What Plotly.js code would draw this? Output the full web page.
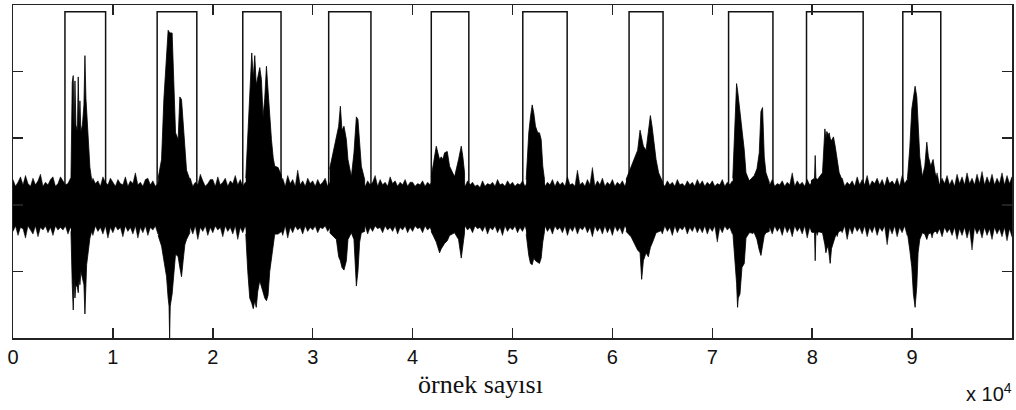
<!DOCTYPE html>
<html>
<head>
<meta charset="utf-8">
<script src="https://cdn.plot.ly/plotly-3.0.1.min.js"></script>
<style>html,body{margin:0;padding:0;background:#fff;}#chart{width:1016px;height:410px;}</style>
</head>
<body>
<div id="chart"></div>
<script>
// ---- data (x in samples, amplitudes) ----
const xTickVals = [0, 10000, 20000, 30000, 40000, 50000, 60000, 70000, 80000, 90000];
const xTickText = ['0', '1', '2', '3', '4', '5', '6', '7', '8', '9'];
const yTickVals = [-0.5, 0, 0.5, 1];

// speech windows (rectangles)
const rectStart = [5200, 14430, 23000, 31600, 41870, 51030, 61670, 71630, 79430, 89070];
const rectEnd   = [9270, 18400, 26830, 35830, 45630, 55470, 65070, 76070, 85100, 92870];
const rectTop = 1.45;

// background noise envelope, every 250 samples from 0 to 100000
const noiseStep = 250;
const noiseHi = [
 0.19,0.14,0.17,0.21,0.15,0.22,0.16,0.14,0.20,0.15,0.18,0.23,0.14,0.17,0.15,0.19,0.21,0.14,0.16,0.21,
 0.18,0.15,0.16,0.20,0.14,0.17,0.19,0.15,0.22,0.14,0.17,0.15,0.20,0.16,0.18,0.14,0.21,0.17,0.15,0.20,
 0.17,0.14,0.19,0.16,0.15,0.21,0.14,0.18,0.16,0.24,0.15,0.17,0.14,0.19,0.20,0.15,0.18,0.14,0.16,0.20,
 0.20,0.15,0.18,0.14,0.22,0.16,0.17,0.14,0.19,0.21,0.15,0.20,0.14,0.17,0.15,0.23,0.18,0.14,0.16,0.19,
 0.19,0.14,0.21,0.15,0.17,0.20,0.14,0.18,0.16,0.22,0.15,0.19,0.14,0.17,0.15,0.21,0.20,0.14,0.16,0.18,
 0.19,0.15,0.22,0.14,0.18,0.16,0.28,0.15,0.20,0.14,0.22,0.16,0.19,0.14,0.26,0.15,0.18,0.14,0.20,0.16,
 0.18,0.14,0.19,0.15,0.17,0.20,0.14,0.17,0.15,0.19,0.14,0.16,0.18,0.14,0.17,0.15,0.19,0.14,0.16,0.18,
 0.16,0.14,0.18,0.15,0.17,0.22,0.14,0.19,0.15,0.17,0.14,0.21,0.16,0.18,0.14,0.17,0.15,0.19,0.14,0.17,
 0.17,0.14,0.16,0.15,0.18,0.14,0.17,0.15,0.19,0.14,0.16,0.15,0.18,0.14,0.17,0.15,0.19,0.14,0.17,0.15,
 0.16,0.14,0.18,0.15,0.17,0.14,0.15,0.13,0.18,0.14,0.16,0.15,0.17,0.14,0.19,0.15,0.16,0.14,0.18,0.15,
 0.17,0.14,0.16,0.15,0.18,0.14,0.17,0.15,0.19,0.14,0.18,0.15,0.20,0.14,0.17,0.15,0.19,0.14,0.18,0.15,
 0.17,0.14,0.21,0.15,0.16,0.14,0.26,0.15,0.17,0.14,0.19,0.15,0.28,0.14,0.18,0.15,0.20,0.14,0.17,0.15,
 0.19,0.14,0.17,0.15,0.18,0.14,0.20,0.15,0.17,0.14,0.19,0.15,0.18,0.14,0.20,0.15,0.19,0.14,0.17,0.15,
 0.16,0.14,0.18,0.15,0.17,0.14,0.19,0.15,0.16,0.14,0.18,0.15,0.17,0.14,0.19,0.15,0.18,0.14,0.17,0.15,
 0.18,0.14,0.16,0.15,0.19,0.14,0.17,0.15,0.18,0.14,0.16,0.15,0.17,0.14,0.19,0.15,0.18,0.14,0.17,0.15,
 0.18,0.14,0.17,0.15,0.19,0.14,0.16,0.15,0.18,0.14,0.17,0.15,0.24,0.14,0.18,0.15,0.17,0.14,0.19,0.15,
 0.17,0.14,0.19,0.15,0.18,0.14,0.17,0.15,0.19,0.14,0.18,0.15,0.20,0.14,0.17,0.15,0.18,0.14,0.21,0.15,
 0.19,0.15,0.22,0.14,0.18,0.16,0.20,0.15,0.19,0.14,0.21,0.16,0.18,0.15,0.20,0.14,0.22,0.16,0.19,0.15,
 0.20,0.15,0.19,0.16,0.21,0.15,0.18,0.14,0.22,0.16,0.24,0.15,0.20,0.16,0.22,0.15,0.19,0.14,0.23,0.16,
 0.21,0.15,0.24,0.16,0.20,0.15,0.23,0.16,0.25,0.15,0.21,0.16,0.23,0.15,0.20,0.16,0.24,0.15,0.22,0.16,
 0.21];
const noiseLo = [
 -0.20,-0.16,-0.23,-0.17,-0.18,-0.25,-0.16,-0.19,-0.22,-0.16,-0.24,-0.17,-0.19,-0.16,-0.21,-0.17,-0.23,-0.16,-0.19,-0.17,
 -0.19,-0.16,-0.22,-0.17,-0.20,-0.16,-0.24,-0.17,-0.21,-0.16,-0.19,-0.17,-0.23,-0.16,-0.20,-0.17,-0.22,-0.16,-0.25,-0.17,
 -0.21,-0.16,-0.19,-0.17,-0.24,-0.16,-0.20,-0.17,-0.22,-0.16,-0.25,-0.17,-0.21,-0.16,-0.23,-0.17,-0.19,-0.16,-0.22,-0.17,
 -0.24,-0.16,-0.21,-0.17,-0.20,-0.16,-0.23,-0.17,-0.25,-0.16,-0.21,-0.17,-0.22,-0.16,-0.26,-0.17,-0.20,-0.16,-0.23,-0.17,
 -0.21,-0.16,-0.19,-0.17,-0.24,-0.16,-0.20,-0.17,-0.22,-0.16,-0.26,-0.17,-0.21,-0.16,-0.23,-0.17,-0.20,-0.16,-0.22,-0.17,
 -0.21,-0.16,-0.19,-0.17,-0.22,-0.16,-0.20,-0.17,-0.23,-0.16,-0.25,-0.17,-0.21,-0.16,-0.19,-0.17,-0.22,-0.16,-0.20,-0.17,
 -0.19,-0.16,-0.21,-0.17,-0.18,-0.16,-0.20,-0.17,-0.22,-0.16,-0.19,-0.17,-0.21,-0.16,-0.20,-0.17,-0.18,-0.16,-0.21,-0.17,
 -0.19,-0.16,-0.22,-0.17,-0.20,-0.16,-0.18,-0.17,-0.21,-0.16,-0.19,-0.17,-0.20,-0.16,-0.22,-0.17,-0.19,-0.16,-0.21,-0.17,
 -0.20,-0.16,-0.18,-0.17,-0.21,-0.16,-0.19,-0.17,-0.22,-0.16,-0.20,-0.17,-0.18,-0.16,-0.21,-0.17,-0.19,-0.16,-0.20,-0.17,
 -0.22,-0.16,-0.19,-0.17,-0.21,-0.16,-0.18,-0.17,-0.20,-0.16,-0.22,-0.17,-0.19,-0.16,-0.21,-0.17,-0.23,-0.16,-0.20,-0.17,
 -0.19,-0.16,-0.21,-0.17,-0.20,-0.16,-0.22,-0.17,-0.19,-0.16,-0.21,-0.17,-0.23,-0.16,-0.20,-0.17,-0.22,-0.16,-0.19,-0.17,
 -0.21,-0.16,-0.23,-0.17,-0.20,-0.16,-0.22,-0.17,-0.19,-0.16,-0.21,-0.17,-0.24,-0.16,-0.20,-0.17,-0.22,-0.16,-0.21,-0.17,
 -0.23,-0.16,-0.20,-0.17,-0.22,-0.16,-0.19,-0.17,-0.21,-0.16,-0.20,-0.17,-0.22,-0.16,-0.19,-0.17,-0.21,-0.16,-0.20,-0.17,
 -0.22,-0.16,-0.20,-0.17,-0.23,-0.16,-0.21,-0.17,-0.19,-0.16,-0.22,-0.17,-0.20,-0.16,-0.21,-0.17,-0.21,-0.16,-0.22,-0.17,
 -0.20,-0.16,-0.28,-0.17,-0.21,-0.16,-0.19,-0.17,-0.22,-0.16,-0.20,-0.17,-0.21,-0.16,-0.19,-0.17,-0.22,-0.16,-0.20,-0.17,
 -0.21,-0.16,-0.19,-0.17,-0.22,-0.16,-0.20,-0.17,-0.23,-0.16,-0.21,-0.17,-0.24,-0.16,-0.20,-0.17,-0.22,-0.16,-0.25,-0.17,
 -0.21,-0.16,-0.23,-0.17,-0.20,-0.16,-0.22,-0.17,-0.19,-0.16,-0.24,-0.17,-0.21,-0.16,-0.26,-0.17,-0.22,-0.16,-0.20,-0.17,
 -0.22,-0.16,-0.24,-0.17,-0.21,-0.16,-0.23,-0.17,-0.20,-0.16,-0.30,-0.17,-0.22,-0.16,-0.24,-0.17,-0.21,-0.16,-0.23,-0.17,
 -0.22,-0.17,-0.24,-0.18,-0.21,-0.17,-0.23,-0.18,-0.25,-0.17,-0.22,-0.18,-0.24,-0.17,-0.21,-0.18,-0.23,-0.17,-0.26,-0.18,
 -0.23,-0.17,-0.25,-0.18,-0.34,-0.17,-0.22,-0.18,-0.25,-0.17,-0.23,-0.18,-0.26,-0.17,-0.22,-0.18,-0.24,-0.17,-0.27,-0.18,
 -0.24];

// speech bursts: sample positions with upper / lower envelope
const burst1X  = [5800,5930,6030,6120,6200,6300,6450,6530,6620,6700,6800,6950,7100,7200,7300,7370,7530,7700,7870];
const burst1Hi = [0.19,0.92,0.97,0.55,0.93,0.60,0.55,0.96,0.60,0.78,0.55,0.60,0.75,1.12,0.80,0.70,0.45,0.28,0.19];
const burst1Lo = [-0.20,-0.60,-0.79,-0.55,-0.70,-0.60,-0.62,-0.66,-0.55,-0.60,-0.50,-0.55,-0.60,-0.82,-0.60,-0.45,-0.35,-0.25,-0.20];

const burst2X  = [14530,14870,15100,15370,15530,15620,15680,15740,15930,16100,16270,16530,16700,16870,17030,17200,17370,17700];
const burst2Hi = [0.20,0.34,0.79,1.16,1.31,1.30,1.29,1.29,1.29,0.91,0.54,0.49,0.81,0.79,0.64,0.44,0.26,0.19];
const burst2Lo = [-0.23,-0.31,-0.42,-0.54,-0.70,-0.76,-1.0,-0.76,-0.67,-0.55,-0.37,-0.39,-0.47,-0.54,-0.42,-0.30,-0.26,-0.21];

const burst3X  = [23300,23500,23700,23900,24050,24200,24350,24500,24700,24870,25030,25200,25370,25530,25700,25870,26050,26200,26530,26870];
const burst3Hi = [0.20,0.50,0.80,1.14,0.95,1.12,0.90,0.95,1.03,0.94,0.66,0.80,1.04,0.86,0.66,0.49,0.35,0.29,0.28,0.22];
const burst3Lo = [-0.22,-0.50,-0.70,-0.74,-0.78,-0.72,-0.77,-0.65,-0.57,-0.60,-0.65,-0.70,-0.72,-0.68,-0.50,-0.42,-0.30,-0.22,-0.22,-0.20];

const burst4X  = [31700,32370,32600,32770,32930,33130,33370,33530,33870,34130,34370,34530,34700,34870,35200];
const burst4Hi = [0.27,0.49,0.59,0.74,0.56,0.59,0.49,0.34,0.21,0.39,0.66,0.64,0.49,0.29,0.19];
const burst4Lo = [-0.21,-0.26,-0.39,-0.42,-0.47,-0.49,-0.42,-0.26,-0.21,-0.26,-0.61,-0.50,-0.28,-0.21,-0.20];

const burst5X  = [41870,42370,42530,42700,42870,43030,43200,43470,43700,44200,44600,44870,45030,45200];
const burst5Hi = [0.21,0.44,0.39,0.34,0.36,0.34,0.39,0.40,0.29,0.21,0.34,0.44,0.36,0.24];
const burst5Lo = [-0.20,-0.28,-0.31,-0.36,-0.33,-0.31,-0.29,-0.27,-0.23,-0.21,-0.26,-0.40,-0.29,-0.21];

const burst6X  = [51370,51630,51800,51970,52130,52300,52530,52700,52870,53030,53200];
const burst6Hi = [0.19,0.54,0.66,0.75,0.69,0.59,0.54,0.54,0.49,0.29,0.19];
const burst6Lo = [-0.22,-0.38,-0.44,-0.45,-0.40,-0.42,-0.43,-0.44,-0.40,-0.28,-0.20];

const burst7X  = [61370,61870,62200,62530,62770,62930,63100,63370,63600,63800,63970,64130,64370,64630,65030];
const burst7Hi = [0.19,0.29,0.36,0.41,0.56,0.49,0.44,0.41,0.54,0.67,0.59,0.49,0.34,0.24,0.17];
const burst7Lo = [-0.20,-0.24,-0.29,-0.34,-0.36,-0.56,-0.42,-0.36,-0.39,-0.32,-0.29,-0.26,-0.21,-0.20,-0.19];

const burst8X  = [72050,72300,72430,72530,72600,72770,72970,73200,73370,73700,74200,74470,74700,74870,75030,75200,75370,75700];
const burst8Hi = [0.20,0.60,0.91,0.86,0.81,0.74,0.56,0.41,0.24,0.18,0.22,0.27,0.39,0.70,0.73,0.36,0.24,0.17];
const burst8Lo = [-0.20,-0.45,-0.59,-0.77,-0.70,-0.67,-0.47,-0.44,-0.25,-0.21,-0.21,-0.26,-0.34,-0.38,-0.30,-0.23,-0.21,-0.20];

const burst9X  = [79870,80230,80300,80370,80530,81030,81270,81370,81470,81600,81700,81800,81930,82130,82300,82530,82700,83030];
const burst9Hi = [0.18,0.20,0.37,0.20,0.19,0.24,0.57,0.50,0.55,0.52,0.54,0.50,0.48,0.51,0.44,0.34,0.24,0.18];
const burst9Lo = [-0.20,-0.21,-0.42,-0.21,-0.20,-0.21,-0.30,-0.36,-0.33,-0.31,-0.38,-0.44,-0.33,-0.28,-0.24,-0.21,-0.20,-0.19];

const burst10X  = [89530,89770,89970,90130,90300,90470,90600,90770,91030,91270,91470,91630,91870,92100,92300,92500];
const burst10Hi = [0.19,0.43,0.72,0.81,0.89,0.81,0.56,0.36,0.21,0.29,0.47,0.36,0.29,0.34,0.24,0.19];
const burst10Lo = [-0.21,-0.34,-0.47,-0.67,-0.77,-0.61,-0.36,-0.26,-0.21,-0.22,-0.26,-0.22,-0.21,-0.21,-0.20,-0.20];

const xTitle = 'örnek sayısı';
const xExponent = 'x 10<sup>4</sup>';

// ---- build traces ----
function envelopeTrace(xs, hi, lo, w) {
  return {
    type: 'scatter', mode: 'lines',
    x: xs.concat(xs.slice().reverse()),
    y: hi.concat(lo.slice().reverse()),
    fill: 'toself', fillcolor: '#000',
    line: {color: '#000', width: w},
    hoverinfo: 'skip', showlegend: false
  };
}
const noiseX = noiseHi.map((_, i) => i * noiseStep);
const bursts = [
  [burst1X, burst1Hi, burst1Lo], [burst2X, burst2Hi, burst2Lo], [burst3X, burst3Hi, burst3Lo],
  [burst4X, burst4Hi, burst4Lo], [burst5X, burst5Hi, burst5Lo], [burst6X, burst6Hi, burst6Lo],
  [burst7X, burst7Hi, burst7Lo], [burst8X, burst8Hi, burst8Lo], [burst9X, burst9Hi, burst9Lo],
  [burst10X, burst10Hi, burst10Lo]
];
const traces = [envelopeTrace(noiseX, noiseHi, noiseLo, 0.5)]
  .concat(bursts.map(b => envelopeTrace(b[0], b[1], b[2], 0.8)));

const shapes = rectStart.map((s, i) => ({
  type: 'rect', xref: 'x', yref: 'y', x0: s, x1: rectEnd[i], y0: 0, y1: rectTop,
  line: {color: '#111', width: 1.5}, fillcolor: 'rgba(0,0,0,0)', layer: 'below'
}));

const axisCommon = {
  showline: true, linecolor: '#222', linewidth: 1.5, mirror: 'ticks',
  ticks: 'inside', ticklen: 10, tickwidth: 1.5, tickcolor: '#222',
  showgrid: false, zeroline: false
};

const layout = {
  width: 1016, height: 410,
  margin: {l: 13, r: 4, t: 5, b: 72},
  paper_bgcolor: '#fff', plot_bgcolor: '#fff',
  showlegend: false,
  xaxis: Object.assign({}, axisCommon, {
    range: [0, 100000], tickvals: xTickVals, ticktext: xTickText,
    tickfont: {family: 'Liberation Sans, Arial, sans-serif', size: 20, color: '#111'}
  }),
  yaxis: Object.assign({}, axisCommon, {
    range: [-1, 1.5], tickvals: yTickVals, showticklabels: false
  }),
  shapes: shapes,
  annotations: [
    {xref: 'paper', yref: 'paper', x: 0.4675, y: -0.141, xanchor: 'center', yanchor: 'middle',
     text: xTitle, showarrow: false,
     font: {family: 'Liberation Serif, Times New Roman, serif', size: 26, color: '#111'}},
    {xref: 'paper', yref: 'paper', x: 1.002, y: -0.165, xanchor: 'right', yanchor: 'middle',
     text: xExponent, showarrow: false,
     font: {family: 'Liberation Sans, Arial, sans-serif', size: 20, color: '#111'}}
  ]
};

Plotly.newPlot('chart', traces, layout, {staticPlot: true, displayModeBar: false});
</script>
</body>
</html>
